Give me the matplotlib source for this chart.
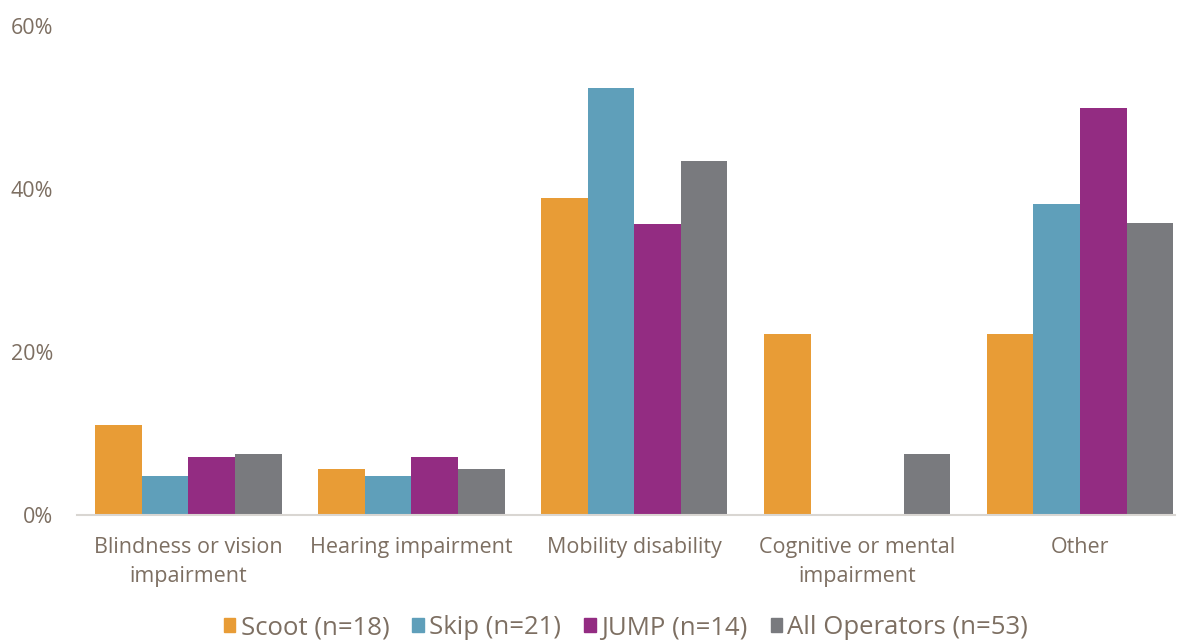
import matplotlib
matplotlib.use('Agg')
import matplotlib.pyplot as plt
import numpy as np
from matplotlib.patches import Patch

# share of riders reporting each disability, per operator
categories = ['Blindness or vision\nimpairment', 'Hearing impairment', 'Mobility disability',
              'Cognitive or mental\nimpairment', 'Other']
scoot = [11.1, 5.6, 38.9, 22.2, 22.2]
skip = [4.8, 4.8, 52.4, 0.0, 38.1]
jump = [7.1, 7.1, 35.7, 0.0, 50.0]
all_ops = [7.5, 5.7, 43.4, 7.5, 35.8]

series = [('Scoot (n=18)', scoot, '#e89c36'),
          ('Skip (n=21)', skip, '#5f9fba'),
          ('JUMP (n=14)', jump, '#932c82'),
          ('All Operators (n=53)', all_ops, '#797a7e')]

text_col = '#7d6f62'
plt.rcParams['font.family'] = ['Open Sans', 'DejaVu Sans']

W, H = 1181, 641
fig = plt.figure(figsize=(W / 100, H / 100), dpi=100)
ax = fig.add_axes([77 / W, (H - 515) / H, (1175 - 77) / W, (515 - 26) / H])

x = np.arange(len(categories))
bw = 0.209
for i, (name, vals, col) in enumerate(series):
    ax.bar(x + (i - 1.5) * bw, vals, bw, color=col, label=name, zorder=2)

ax.set_ylim(0, 60)
ax.set_xlim(-0.5, 4.426)
ax.set_yticks([0, 20, 40, 60])
ax.set_yticklabels(['0%', '20%', '40%', '60%'])
ax.set_xticks(x)
ax.set_xticklabels(categories, linespacing=1.5)
ax.tick_params(axis='both', length=0, labelsize=15.5, colors=text_col)
ax.tick_params(axis='y', pad=17)
ax.tick_params(axis='x', pad=16)
for s in ['top', 'right', 'left']:
    ax.spines[s].set_visible(False)
ax.spines['bottom'].set_color('#d9d6d2')
ax.spines['bottom'].set_linewidth(1.5)
ax.spines['bottom'].set_zorder(3)

handles = [Patch(color=c, label=n) for n, v, c in series]
leg = fig.legend(handles=handles, loc='center', bbox_to_anchor=(626 / W, 1 - 628 / H), ncol=4,
                 frameon=False, fontsize=18.5, handlelength=0.45, handleheight=0.45,
                 handletextpad=0.2, columnspacing=0.9)
for t in leg.get_texts():
    t.set_color(text_col)

fig.savefig('out.png', dpi=100)
